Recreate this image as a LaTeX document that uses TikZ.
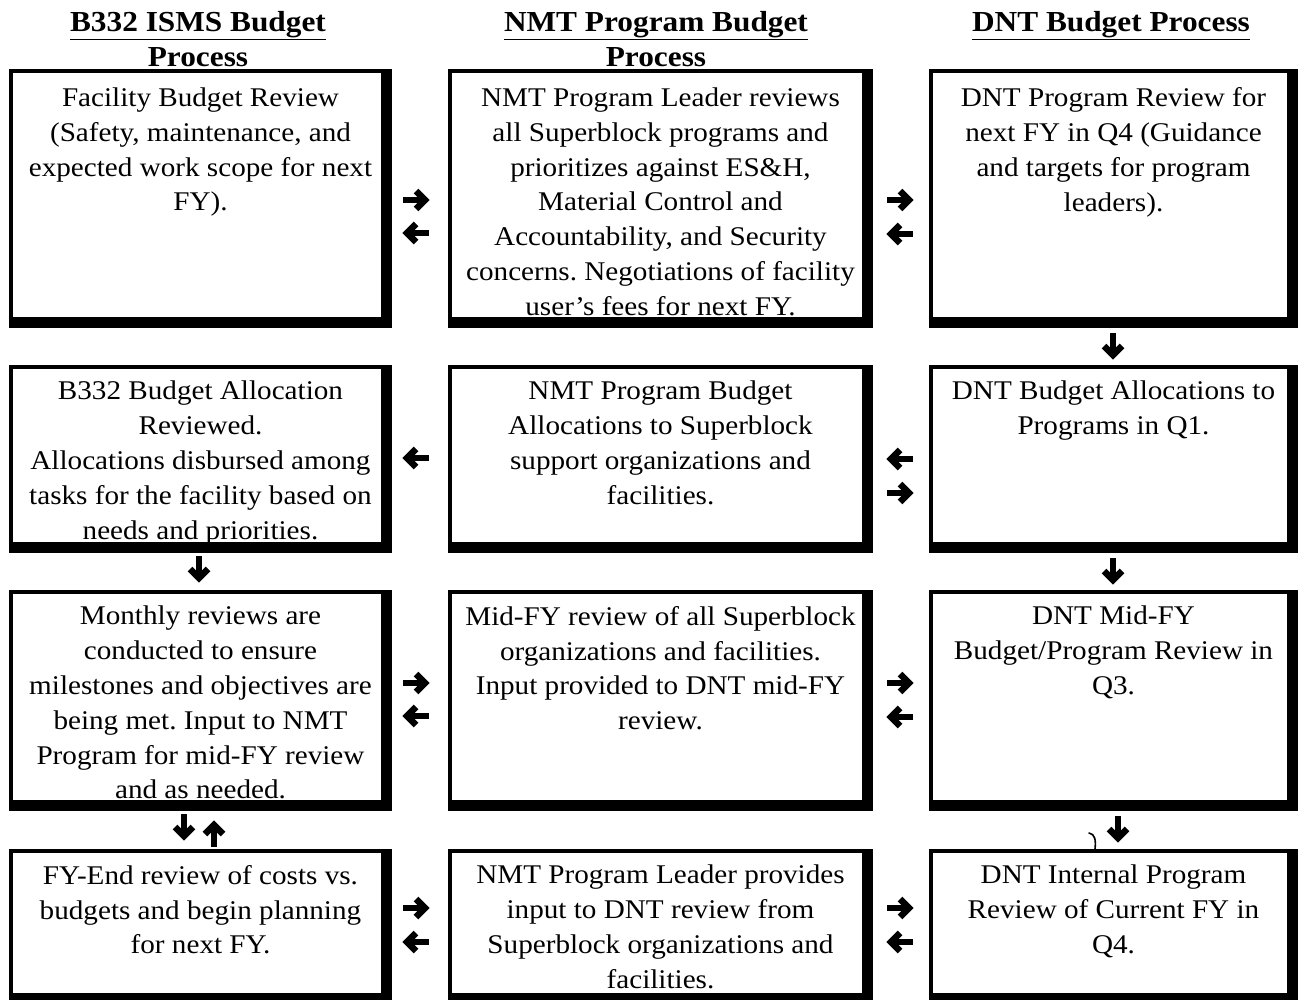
\documentclass[tikz,border=0pt]{standalone}
\usepackage{fontspec}
\setmainfont{Liberation Serif}[FakeStretch=1.08]
\usetikzlibrary{calc}
\frenchspacing

\tikzset{
  boxarea/.style={rectangle, draw=none, inner sep=0pt, outer sep=0pt},
  thinedge/.style={draw=black, line width=4.5pt},
  boxtext/.style={align=center, inner sep=0pt, font=\fontsize{27}{34.8}\selectfont},
  headtext/.style={align=center, inner sep=0pt, font=\fontsize{29}{35}\selectfont\bfseries},
  blockarrow/.pic={
    \draw[line width=6.5pt, line cap=butt] (-13,0) -- (8,0);
    \draw[line width=6.5pt, line cap=butt, line join=miter] (0,-9) -- (9,0) -- (0,9);
  }
}

% A process box: thin frame with a heavy right and bottom edge;
% #7 is the gap from the top edge to the first line of text
\newcommand\procbox[7][16]{%
  \node[boxarea, minimum width={#5-#3}, minimum height={#6-#4}] (#2) at ({(#3+#5)/2},{(#4+#6)/2}) {};
  \draw[thinedge] ($(#2.north west)+(2.2,2.2)$) rectangle ($(#2.south east)+(-2.2,-2.2)$);
  \fill ($(#2.north east)+(-11,0)$) rectangle (#2.south east);
  \fill ($(#2.south west)+(0,-11)$) rectangle (#2.south east);
  \node[boxtext, anchor=north] (#2t) at ($(#2.north)+(0,#1)$) {#7};
}

\begin{document}
\begin{tikzpicture}[x=1pt, y=-1pt]
\useasboundingbox (0,0) rectangle (1299,1000);

% column headings
\node[headtext, anchor=north] (h1) at (198,11) {\underline{B332 ISMS Budget}\\Process};
\node[headtext, anchor=north] (h2) at (656,11) {\underline{NMT Program Budget}\\Process};
\node[headtext, anchor=north] (h3) at (1111,11) {\underline{DNT Budget Process}};

% row 1
\procbox[18.5]{r1c1}{9}{69}{392}{328}{Facility Budget Review\\(Safety, maintenance, and\\expected work scope for next\\FY).}
\procbox[18.5]{r1c2}{448}{69}{873}{328}{NMT Program Leader reviews\\all Superblock programs and\\prioritizes against ES\&H,\\Material Control and\\Accountability, and Security\\concerns. Negotiations of facility\\user’s fees for next FY.}
\procbox[18.5]{r1c3}{929}{69}{1298}{328}{DNT Program Review for\\next FY in Q4 (Guidance\\and targets for program\\leaders).}

% row 2
\procbox{r2c1}{9}{365}{392}{553}{B332 Budget Allocation\\Reviewed.\\Allocations disbursed among\\tasks for the facility based on\\needs and priorities.}
\procbox{r2c2}{448}{365}{873}{553}{NMT Program Budget\\Allocations to Superblock\\support organizations and\\facilities.}
\procbox{r2c3}{929}{365}{1298}{553}{DNT Budget Allocations to\\Programs in Q1.}

% row 3
\procbox{r3c1}{9}{590}{392}{811}{Monthly reviews are\\conducted to ensure\\milestones and objectives are\\being met. Input to NMT\\Program for mid-FY review\\and as needed.}
\procbox{r3c2}{448}{590}{873}{811}{Mid-FY review of all Superblock\\organizations and facilities.\\Input provided to DNT mid-FY\\review.}
\procbox{r3c3}{929}{590}{1298}{811}{DNT Mid-FY\\Budget/Program Review in\\Q3.}

% row 4
\procbox{r4c1}{9}{849}{392}{1004}{FY-End review of costs vs.\\budgets and begin planning\\for next FY.}
\procbox{r4c2}{448}{849}{873}{1004}{NMT Program Leader provides\\input to DNT review from\\Superblock organizations and\\facilities.}
\procbox{r4c3}{929}{849}{1298}{1004}{DNT Internal Program\\Review of Current FY in\\Q4.}

% horizontal block arrows between columns
\pic at (416,200) {blockarrow};
\pic[xscale=-1] at (416,233) {blockarrow};
\pic at (900,200) {blockarrow};
\pic[xscale=-1] at (900,234) {blockarrow};

\pic[xscale=-1] at (416,458) {blockarrow};
\pic[xscale=-1] at (900,459) {blockarrow};
\pic at (900,493) {blockarrow};

\pic at (416,683) {blockarrow};
\pic[xscale=-1] at (416,716) {blockarrow};
\pic at (900,683) {blockarrow};
\pic[xscale=-1] at (900,717) {blockarrow};

\pic at (416,908) {blockarrow};
\pic[xscale=-1] at (416,942) {blockarrow};
\pic at (900,908) {blockarrow};
\pic[xscale=-1] at (900,942) {blockarrow};

% vertical block arrows between rows
\pic[rotate=-90] at (1113,346) {blockarrow};
\pic[rotate=-90] at (1113,571) {blockarrow};
\pic[rotate=-90] at (199,569) {blockarrow};
\pic[rotate=-90] at (184,827) {blockarrow};
\pic[rotate=90] at (214,834) {blockarrow};
\pic[rotate=-90] at (1118,829) {blockarrow};

% small pen stroke beside the last arrow
\draw[line width=1.6pt, line cap=round] (1089,833) .. controls (1095,834) and (1096,840) .. (1095,849);
\end{tikzpicture}
\end{document}
